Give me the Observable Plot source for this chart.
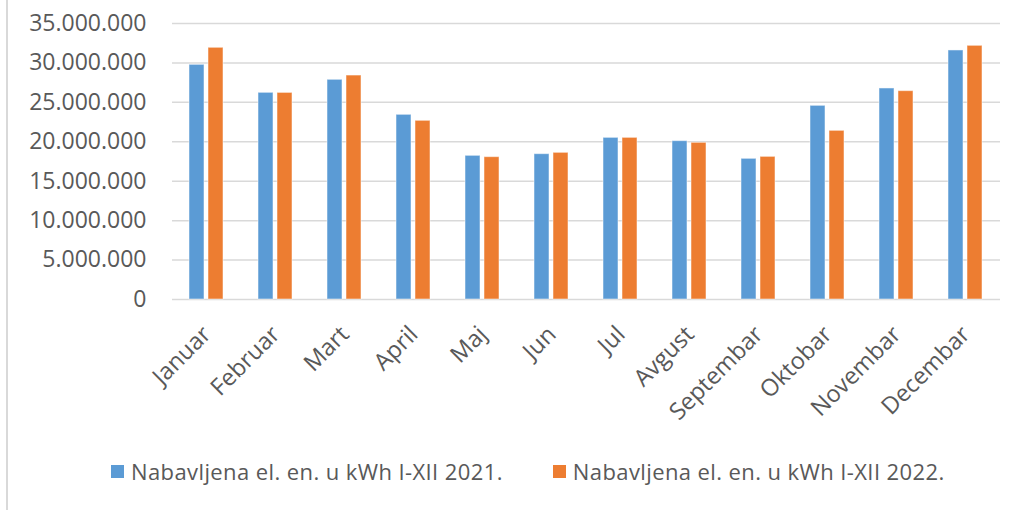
<!DOCTYPE html>
<html>
<head>
<meta charset="utf-8">
<script src="https://cdn.jsdelivr.net/npm/d3@7"></script>
<script src="https://cdn.jsdelivr.net/npm/@observablehq/plot@0.6"></script>
<style>
  html, body { margin: 0; padding: 0; background: #fff; }
  #wrap { position: relative; width: 1018px; height: 510px; overflow: hidden; font-family: "Open Sans", sans-serif; }
  #border { position: absolute; left: 6px; top: 0; width: 2px; height: 510px; background: #D9D9D9; }
  #chart { position: absolute; left: 0; top: 0; }
  #legend { position: absolute; left: 111px; top: 456px; display: flex; align-items: center; font-size: 22px; letter-spacing: 0.4px; color: #595959; white-space: nowrap; }
  .item { display: flex; align-items: center; }
  .sw { width: 13px; height: 13px; margin-right: 7px; }
</style>
</head>
<body>
<div id="wrap">
  <div id="border"></div>
  <div id="chart"></div>
  <div id="legend"></div>
</div>
<script>
const months = ["Januar","Februar","Mart","April","Maj","Jun","Jul","Avgust","Septembar","Oktobar","Novembar","Decembar"];
const v2021 = [29760000, 26210000, 27860000, 23420000, 18220000, 18430000, 20500000, 20080000, 17840000, 24560000, 26760000, 31580000];
const v2022 = [31920000, 26200000, 28400000, 22660000, 18050000, 18600000, 20500000, 19870000, 18090000, 21390000, 26420000, 32170000];
const series = ["Nabavljena el. en. u kWh I-XII 2021.", "Nabavljena el. en. u kWh I-XII 2022."];
const colors = ["#5B9BD5", "#ED7D31"];
const yTicks = [0, 5000000, 10000000, 15000000, 20000000, 25000000, 30000000, 35000000];

const data = months.flatMap((m, i) => [
  {month: m, series: series[0], value: v2021[i]},
  {month: m, series: series[1], value: v2022[i]}
]);

const fmt = d => d3.format(",")(d).replace(/,/g, ".");

const chart = Plot.plot({
  width: 1018,
  height: 430,
  marginLeft: 166,
  marginRight: 13,
  marginTop: 23,
  marginBottom: 131,
  style: {fontFamily: "'Open Sans', sans-serif", fontSize: "23px", color: "#595959", background: "transparent"},
  fx: {domain: months, padding: 0, label: null},
  x: {domain: series, axis: null, paddingInner: 0.2, paddingOuter: 0.85},
  y: {domain: [0, 35000000], label: null},
  color: {domain: series, range: colors},
  marks: [
    Plot.gridY(yTicks, {stroke: "#D9D9D9", strokeOpacity: 1, strokeWidth: 1.5}),
    Plot.barY(data, {fx: "month", x: "series", y: "value", fill: "series", stroke: "#ffffff", strokeOpacity: 0.5, strokeWidth: 1}),
    Plot.axisY({ticks: yTicks, tickFormat: fmt, tickSize: 0, tickPadding: 26, label: null, fontSize: 23}),
    Plot.axisFx({anchor: "bottom", tickRotate: -45, tickSize: 0, tickPadding: 31, label: null, fontSize: 23.5})
  ]
});
document.getElementById("chart").appendChild(chart);

const legend = document.getElementById("legend");
series.forEach((s, i) => {
  const it = document.createElement("div");
  it.className = "item";
  if (i > 0) it.style.marginLeft = "50px";
  const sw = document.createElement("span");
  sw.className = "sw";
  sw.style.background = colors[i];
  const tx = document.createElement("span");
  tx.textContent = s;
  it.appendChild(sw);
  it.appendChild(tx);
  legend.appendChild(it);
});
</script>
</body>
</html>
